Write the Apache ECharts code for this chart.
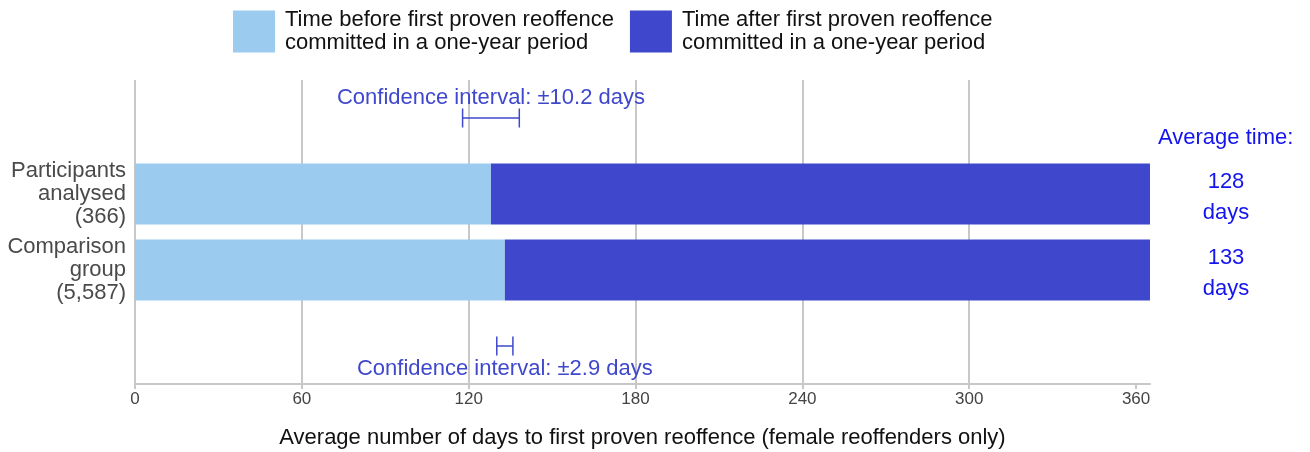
<!DOCTYPE html>
<html>
<head>
<meta charset="utf-8">
<script src="https://cdn.jsdelivr.net/npm/echarts@6/dist/echarts.min.js"></script>
<style>html,body{margin:0;padding:0;background:#fff}#c{width:1310px;height:452px}</style>
</head>
<body>
<div id="c"></div>
<script>
var categories = ['', 'Participants\nanalysed\n(366)', 'Comparison\ngroup\n(5,587)', ''];
var seriesNames = ['Time before first proven reoffence\ncommitted in a one-year period', 'Time after first proven reoffence\ncommitted in a one-year period'];
var beforeValues = [null, 128, 133, null];
var afterValues = [null, 237, 232, null];
var ciCenters = [128, 133];
var ciHalfWidths = [10.2, 2.9];
var ciRows = [0, 3];
var ciLabels = ['Confidence interval: \u00b110.2 days', 'Confidence interval: \u00b12.9 days'];
var xTicks = [0, 60, 120, 180, 240, 300, 360];
var xMax = 365;
var avgTitle = 'Average time:';

var FONT = '"Liberation Sans", Arial, sans-serif';
var chart = echarts.init(document.getElementById('c'), null, {renderer: 'canvas'});
var ciData = ciCenters.map(function (c, i) { return [c - ciHalfWidths[i], c + ciHalfWidths[i], ciRows[i], i]; });

chart.setOption({
  animation: false,
  textStyle: {fontFamily: FONT},
  color: ['#9ccbf0', '#3f48cc'],
  legend: {
    left: 233, top: 6, padding: 0,
    itemWidth: 42, itemHeight: 42, itemGap: 16,
    icon: 'rect',
    data: seriesNames,
    textStyle: {fontSize: 22, color: '#111', lineHeight: 23, fontFamily: FONT, padding: [5, 0, 0, 5]}
  },
  grid: {left: 135, right: 160, top: 80, bottom: 68, containLabel: false, outerBoundsMode: 'none'},
  xAxis: {
    type: 'value', min: 0, max: xMax, interval: 60,
    name: 'Average number of days to first proven reoffence (female reoffenders only)',
    nameLocation: 'middle', nameGap: 43,
    nameTextStyle: {fontSize: 22, color: '#111', fontFamily: FONT},
    axisLine: {show: true, lineStyle: {color: '#c8c8c8', width: 2}},
    axisTick: {show: true, length: 5, lineStyle: {color: '#c8c8c8', width: 2}, customValues: xTicks},
    axisLabel: {fontSize: 17, color: '#444', margin: 7, customValues: xTicks, fontFamily: FONT},
    splitLine: {show: true, showMaxLine: false, lineStyle: {color: '#c8c8c8', width: 2}}
  },
  yAxis: {
    type: 'category', inverse: true, data: categories,
    axisLine: {show: false}, axisTick: {show: false},
    axisLabel: {fontSize: 22, color: '#4a4a4a', lineHeight: 23, margin: 9, fontFamily: FONT, padding: [3, 0, 0, 0]}
  },
  graphic: [{
    type: 'text', x: 1158, y: 138,
    style: {text: avgTitle, fill: '#1414ee', font: '22px ' + FONT, verticalAlign: 'middle'}
  }],
  series: [
    {
      name: seriesNames[0], type: 'bar', stack: 't', data: beforeValues,
      barCategoryGap: '20%'
    },
    {
      name: seriesNames[1], type: 'bar', stack: 't', data: afterValues,
      barCategoryGap: '20%',
      label: {
        show: true, position: 'right', distance: 76, align: 'center', offset: [0, 3],
        color: '#1414ee', fontSize: 22, lineHeight: 31, fontFamily: FONT,
        formatter: function (p) { return beforeValues[p.dataIndex] + '\ndays'; }
      }
    },
    {
      type: 'custom', name: 'ci', silent: true, z: 10,
      data: ciData,
      encode: {x: [0, 1], y: 2},
      renderItem: function (params, api) {
        var lo = api.coord([api.value(0), api.value(2)]);
        var hi = api.coord([api.value(1), api.value(2)]);
        var idx = api.value(3);
        var y = lo[1];
        var cap = 9.5;
        var st = {stroke: '#3f48cc', lineWidth: 1.5};
        var above = idx === 0;
        return {
          type: 'group',
          children: [
            {type: 'line', shape: {x1: lo[0], y1: y, x2: hi[0], y2: y}, style: st},
            {type: 'line', shape: {x1: lo[0], y1: y - cap, x2: lo[0], y2: y + cap}, style: st},
            {type: 'line', shape: {x1: hi[0], y1: y - cap, x2: hi[0], y2: y + cap}, style: st},
            {type: 'text', x: (lo[0] + hi[0]) / 2, y: above ? y - 20 : y + 23,
             style: {text: ciLabels[idx], fill: '#3f48cc', font: '22px ' + FONT, align: 'center', verticalAlign: 'middle'}}
          ]
        };
      }
    }
  ]
});
</script>
</body>
</html>
